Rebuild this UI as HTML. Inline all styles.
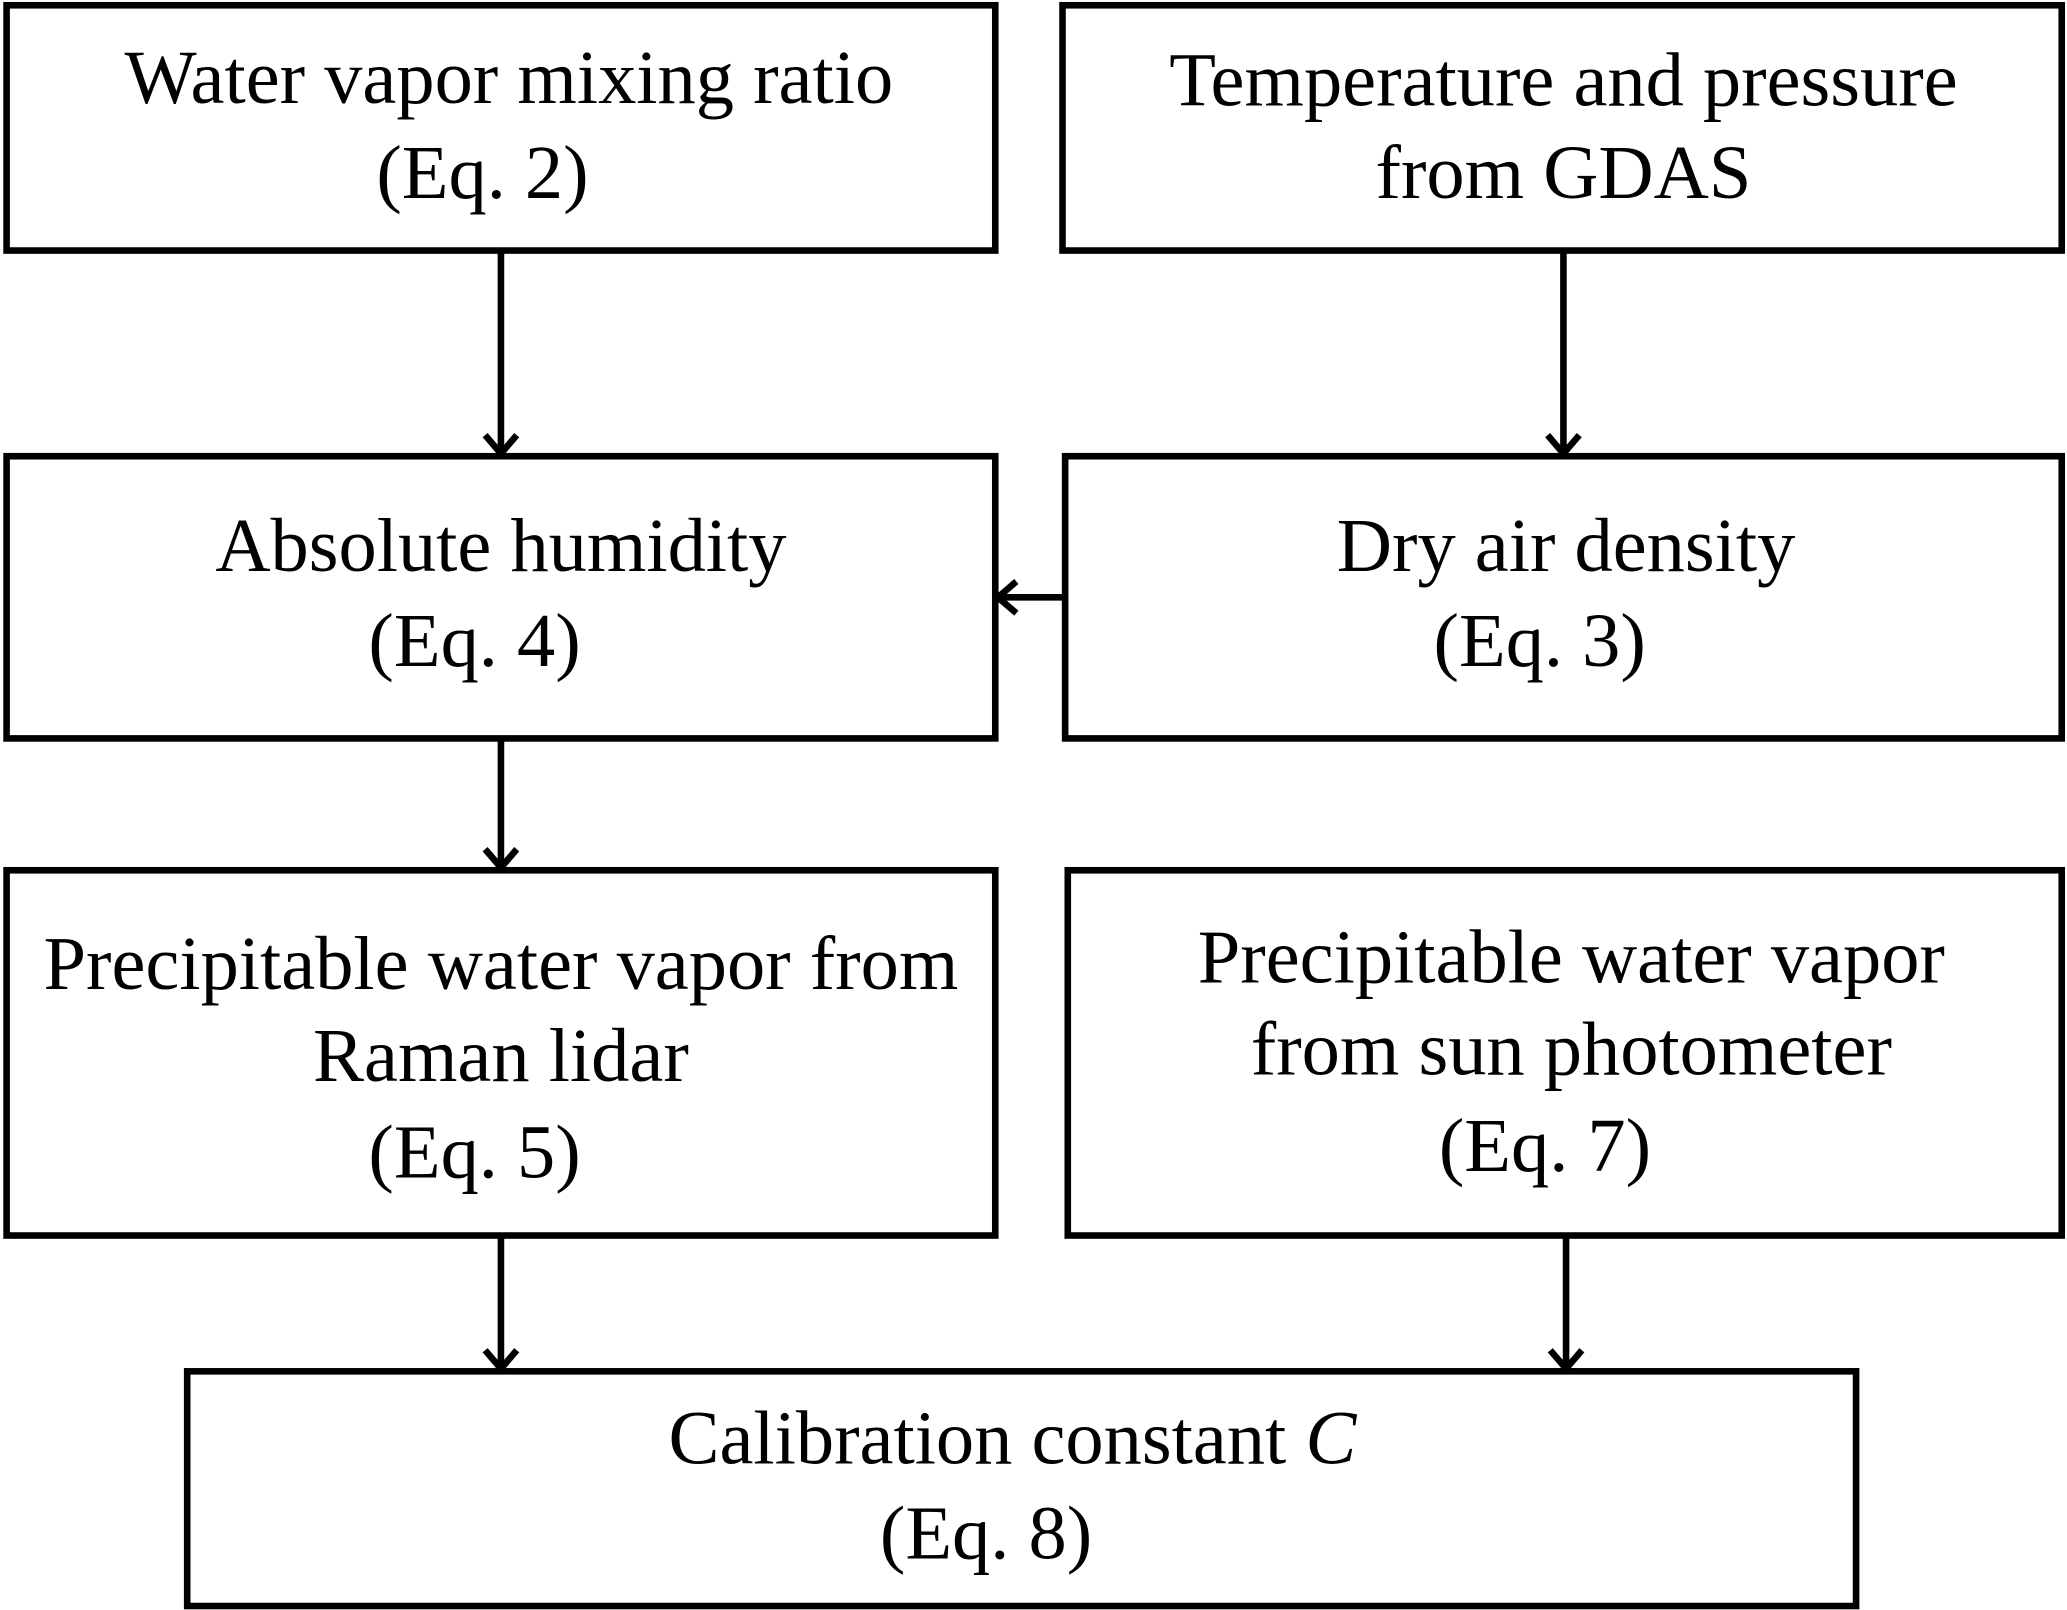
<!DOCTYPE html>
<html>
<head>
<meta charset="utf-8">
<style>
html,body{margin:0;padding:0;background:#fff;}
svg{display:block;}
text{font-family:"Liberation Serif","Times New Roman",serif;font-size:58px;fill:#000;text-anchor:middle;}
</style>
</head>
<body>
<svg width="2067" height="1610" viewBox="0 0 1568 1221" preserveAspectRatio="none" xmlns="http://www.w3.org/2000/svg">
<g fill="none" stroke="#000" stroke-width="5">
<rect x="5" y="4" width="750" height="186"/>
<rect x="806" y="4" width="758" height="186"/>
<rect x="5" y="346" width="750" height="214"/>
<rect x="808" y="346" width="756" height="214"/>
<rect x="5" y="660" width="750" height="277"/>
<rect x="810" y="660" width="754" height="277"/>
<rect x="142" y="1040" width="1266" height="178"/>
<line x1="380" y1="190" x2="380" y2="344"/>
<polyline points="368,330 380,344 392,330"/>
<line x1="1186" y1="190" x2="1186" y2="344"/>
<polyline points="1174,330 1186,344 1198,330"/>
<line x1="808" y1="453" x2="757" y2="453"/>
<polyline points="771,441 757,453 771,465"/>
<line x1="380" y1="560" x2="380" y2="658"/>
<polyline points="368,644 380,658 392,644"/>
<line x1="380" y1="937" x2="380" y2="1038"/>
<polyline points="368,1024 380,1038 392,1024"/>
<line x1="1188" y1="937" x2="1188" y2="1038"/>
<polyline points="1176,1024 1188,1038 1200,1024"/>
</g>
<text x="386" y="78">Water vapor mixing ratio</text>
<text x="366" y="150">(Eq. 2)</text>
<text x="1186" y="80">Temperature and pressure</text>
<text x="1186" y="150">from GDAS</text>
<text x="380" y="433">Absolute humidity</text>
<text x="360" y="505">(Eq. 4)</text>
<text x="1188" y="433">Dry air density</text>
<text x="1168" y="505">(Eq. 3)</text>
<text x="380" y="750">Precipitable water vapor from</text>
<text x="380" y="820">Raman lidar</text>
<text x="360" y="893">(Eq. 5)</text>
<text x="1192" y="745">Precipitable water vapor</text>
<text x="1192" y="815">from sun photometer</text>
<text x="1172" y="888">(Eq. 7)</text>
<text x="768" y="1110">Calibration constant <tspan font-style="italic">C</tspan></text>
<text x="748" y="1182">(Eq. 8)</text>
</svg>
</body>
</html>
